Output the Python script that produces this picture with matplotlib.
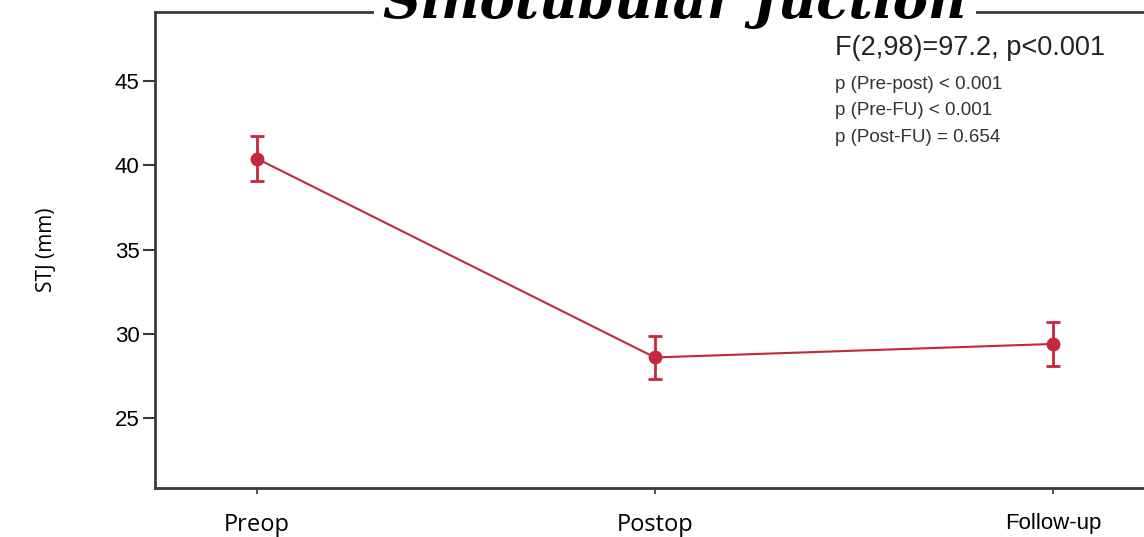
import numpy as np
import matplotlib.pyplot as plt
from matplotlib.transforms import ScaledTranslation

groups = ['Preop', 'Postop', 'Follow-up']
stj_mean = [40.4, 28.6, 29.4]
stj_err = [1.35, 1.3, 1.33]
stats_main = 'F(2,98)=97.2, p<0.001'
stats_pairs = ['p (Pre-post) < 0.001', 'p (Pre-FU) < 0.001', 'p (Post-FU) = 0.654']

red = '#c4283a'
spine_col = '#3a3a3a'

fig = plt.figure(figsize=(11.44, 5.37), dpi=100)
ax = fig.add_axes([0.1355, 0.0912, 0.874, 0.8864])

x = np.arange(len(groups))
ax.errorbar(x, stj_mean, yerr=stj_err, color=red, marker='o', markersize=9,
            linewidth=1.5, elinewidth=2, capsize=5, capthick=2)

ax.set_xlim(-0.256, 2.256)
ax.set_ylim(20.85, 49.1)
ax.set_yticks([25, 30, 35, 40, 45])
ax.set_xticks(x)
ax.set_xticklabels(groups, fontfamily='Open Sans', fontsize=17)
# the last label looks like a different font and sits a bit higher
lab = ax.get_xticklabels()[2]
lab.set_fontfamily('Liberation Sans')
lab.set_fontsize(16)
lab.set_transform(lab.get_transform() + ScaledTranslation(0, 5 / 72, fig.dpi_scale_trans))

for t in ax.get_yticklabels():
    t.set_fontfamily('Liberation Sans')
    t.set_fontsize(16)
ax.tick_params(axis='y', length=9, width=1.5, color=spine_col, pad=2)
ax.tick_params(axis='x', length=4, width=1.2, color=spine_col, pad=14)

for s in ax.spines.values():
    s.set_color(spine_col)
    s.set_linewidth(2)

ax.set_ylabel('STJ (mm)', fontfamily='Open Sans', fontsize=15)
ax.yaxis.set_label_coords(-0.098, 0.5)

# title sits on top of the frame line, partly cut off like in the original
fig.text(0.59, 1 - 18 / 537, 'Sinotubular Juction', ha='center', va='baseline',
         fontfamily='DejaVu Serif', fontweight='bold', fontstyle='italic',
         fontsize=38, color='black',
         bbox=dict(facecolor='white', edgecolor='none', pad=7))

fx = 835 / 1144
fig.text(fx, 1 - 48 / 537, stats_main, ha='left', va='center',
         fontfamily='Liberation Sans', fontsize=19.5, color='#222222')
for i, s in enumerate(stats_pairs):
    fig.text(fx, 1 - (84 + 26.5 * i) / 537, s, ha='left', va='center',
             fontfamily='Liberation Sans', fontsize=13.5, color='#333333')

fig.savefig('out.png', dpi=100)
